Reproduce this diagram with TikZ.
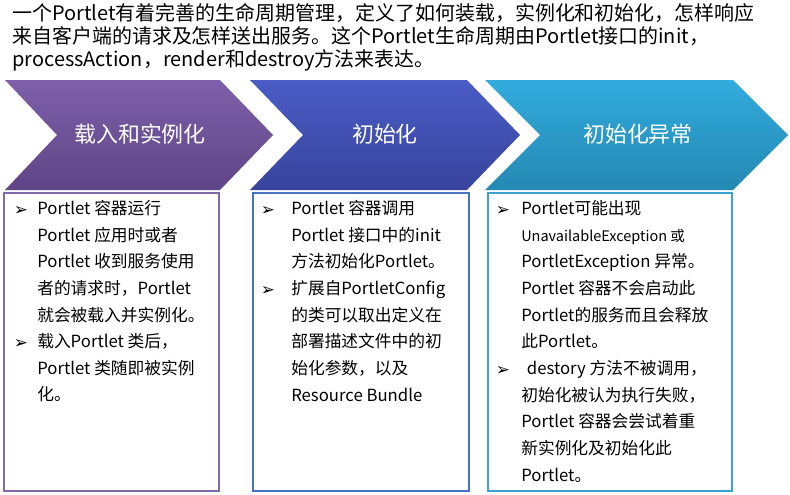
\documentclass[tikz,border=0pt]{standalone}
\usepackage{fontspec}
\setmainfont{Noto Sans CJK SC}
\newfontfamily\symfont{DejaVu Sans}
\usetikzlibrary{positioning}
\definecolor{loadTop}{HTML}{7E60AA}
\definecolor{loadBot}{HTML}{5E4586}
\definecolor{initTop}{HTML}{4A5CC6}
\definecolor{initBot}{HTML}{38449C}
\definecolor{failTop}{HTML}{31ABDD}
\definecolor{failBot}{HTML}{2488B2}
\definecolor{loadLine}{HTML}{7F6BAA}
\definecolor{initLine}{HTML}{4A72C4}
\definecolor{failLine}{HTML}{3BA3D0}

\begin{document}
\begin{tikzpicture}[
    x=0.025cm, y=-0.025cm,
    intro/.style={anchor=north west, inner sep=0pt, align=left,
                  font=\fontsize{14.2}{16.4}\selectfont},
    stage/.style={text=white, font=\fontsize{15.6}{18}\selectfont},
    panel/.style={draw, line width=1.4pt, fill=white, anchor=north west,
                  minimum height=7.45cm},
    item/.style={anchor=north west, inner sep=0pt, align=left,
                 font=\fontsize{11.9}{19}\selectfont},
    bullet/.style={inner sep=0pt, font=\symfont\fontsize{12}{14}\selectfont},
  ]
    \useasboundingbox (0,0) rectangle (790,494);

    % intro text
    \node[intro] (intro) at (12,3) {一个Portlet有着完善的生命周期管理，定义了如何装载，实例化和初始化，怎样响应\\
      来自客户端的请求及怎样送出服务。这个Portlet生命周期由Portlet接口的init，\\
      processAction，render和destroy方法来表达。};

    % stage chevrons
    \shade[top color=loadTop, bottom color=loadBot]
      (5,80) -- (220,80) -- (273,135) -- (220,190) -- (5,190) -- (57,135) -- cycle;
    \shade[top color=initTop, bottom color=initBot]
      (250,80) -- (467,80) -- (520,135) -- (467,190) -- (250,190) -- (303,135) -- cycle;
    \shade[top color=failTop, bottom color=failBot]
      (485,80) -- (733,80) -- (788,135) -- (733,190) -- (485,190) -- (540,135) -- cycle;
    \node[stage] (load) at (140,134) {载入和实例化};
    \node[stage] (init) at (385,134) {初始化};
    \node[stage] (fail) at (638,134) {初始化异常};

    % panels
    \node[panel, draw=loadLine, minimum width=5.375cm] (p1) at (3,192) {};
    \node[panel, draw=initLine, minimum width=5.4cm] (p2) at (252,192) {};
    \node[panel, draw=failLine, minimum width=6.1cm] (p3) at (487,192) {};

    % panel 1
    \node[bullet] (p1b1) at (21,211) {➢};
    \node[item] (p1i1) at (37,200) {Portlet 容器运行\\Portlet 应用时或者\\Portlet 收到服务使用\\者的请求时，Portlet\\就会被载入并实例化。};
    \node[bullet] (p1b2) at (21,344) {➢};
    \node[item] (p1i2) at (37,333) {载入Portlet 类后，\\Portlet 类随即被实例\\化。};

    % panel 2
    \node[bullet] (p2b1) at (268,211) {➢};
    \node[item] (p2i1) at (291,200) {Portlet 容器调用\\Portlet 接口中的init\\方法初始化Portlet。};
    \node[bullet] (p2b2) at (268,291) {➢};
    \node[item] (p2i2) at (291,280) {扩展自PortletConfig\\的类可以取出定义在\\部署描述文件中的初\\始化参数，以及\\Resource Bundle};

    % panel 3
    \node[bullet] (p3b1) at (503,211) {➢};
    \node[item] (p3i1) at (521,200) {Portlet可能出现\\{\fontsize{10.3}{19}\selectfont UnavailableException 或}\\PortletException 异常。\\Portlet 容器不会启动此\\Portlet的服务而且会释放\\此Portlet。};
    \node[bullet] (p3b2) at (503,371) {➢};
    \node[item] (p3i2) at (521,360) {\hspace{4pt}destory 方法不被调用，\\初始化被认为执行失败，\\Portlet 容器会尝试着重\\新实例化及初始化此\\Portlet。};
  \end{tikzpicture}
\end{document}
